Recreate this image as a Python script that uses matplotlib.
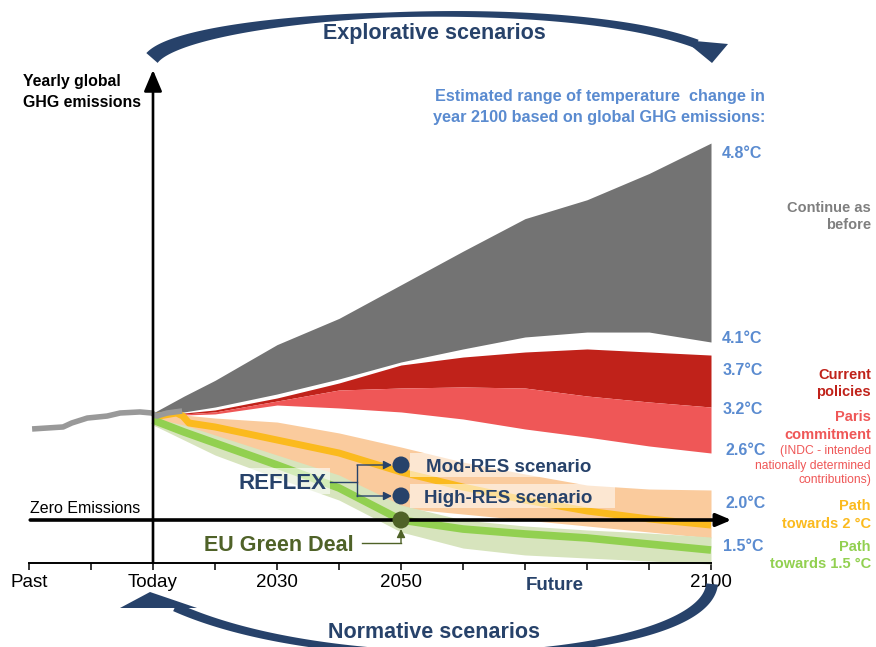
import numpy as np
import matplotlib
matplotlib.use("Agg")
import matplotlib.pyplot as plt
from matplotlib.patches import Polygon, Rectangle

plt.rcParams["font.family"] = ["Liberation Sans", "DejaVu Sans"]

W, H = 876, 647

# emissions are an index with today's level = 100; years on the time axis
YEARS = [2010, 2015, 2020, 2030, 2040, 2050, 2060, 2070, 2080, 2090, 2100]

past_years = [1990.5, 1995.5, 1996.9, 1999.4, 2002.6, 2004.7, 2007.9, 2009.8, 2010.6, 2012.3, 2014.7]
past_emis = [86.7, 88.6, 92.4, 97.1, 99.0, 101.9, 102.9, 101.9, 99.0, 101.9, 103.8]

bau_hi = [101.9, 118, 133, 167, 192, 224, 256, 287, 305, 330, 359]
bau_lo = [101.9, 102.9, 107.6, 120.0, 134.3, 150.5, 162.9, 174.3, 179.0, 179.0, 169.5]
cur_hi = [101.0, 101.9, 104.8, 116.2, 130.5, 147.6, 155.2, 160.0, 162.9, 160.0, 157.1]
cur_mid = [101.0, 101.0, 102.9, 113.3, 123.8, 125.7, 126.7, 125.7, 118.1, 112.4, 107.6]
paris_lo = [101.0, 100.0, 101.0, 109.5, 106.7, 102.9, 96.2, 86.7, 79.0, 70.5, 63.8]

two_hi = [101.9, 100.0, 97.1, 93.3, 82.9, 69.5, 55.2, 43.8, 33.3, 29.5, 28.6]
two_lo = [90.5, 79.0, 66.7, 47.6, 28.6, 11.4, 5.7, 0.0, -5.7, -11.4, -17.1]
two_years = [2010, 2013.8, 2014.8, 2015.8, 2020, 2030, 2040, 2050, 2060, 2070, 2080, 2090, 2100]
two_mid = [98.1, 101.9, 99.0, 92.4, 88.6, 76.2, 63.8, 45.7, 31.4, 19.0, 8.6, 1.0, -4.8]

one5_hi = [97.1, 90.5, 81.0, 61.9, 42.9, 14.3, 0.0, -5.7, -9.5, -12.4, -16.2]
one5_lo = [90.5, 76.2, 61.9, 40.0, 19.0, -11.4, -26.7, -33.3, -36.2, -39.0, -41.9]
one5_mid = [95.2, 83.8, 73.3, 52.4, 30.5, 0.0, -8.6, -13.3, -17.1, -22.9, -28.6]

# 2050 scenario points
dot_year = 2050
dot_names = ["Mod-RES", "High-RES", "EU Green Deal"]
dot_emis = [52.4, 22.9, 0.0]

tick_years = list(range(1990, 2101, 10))
tick_labels = ["Past", "", "Today", "", "2030", "", "2050", "", "", "", "", "2100"]

temp_labels = ["4.8°C", "4.1°C", "3.7°C", "3.2°C", "2.6°C", "2.0°C", "1.5°C"]

GREY_BAND = "#737373"
DARK_RED = "#C0221A"
LIGHT_RED = "#EF5757"
PEACH = "#FACB9D"
PALE_GREEN = "#D7E4BD"
YELLOW = "#FBBA1E"
GREEN = "#92D050"
NAVY = "#27426A"
OLIVE = "#4F6228"
BLUE = "#5A8BD0"

X0_PX, PX_PER_YEAR = 29, 6.2
ZERO_PX, PX_PER_UNIT = 520, 1.05
AXIS_BASE = (ZERO_PX - 563) / PX_PER_UNIT

fig = plt.figure(figsize=(W / 100, H / 100), dpi=100)
ax = fig.add_axes([0, 0, 1, 1])
ax.set_xlim(1990 - X0_PX / PX_PER_YEAR, 1990 + (W - X0_PX) / PX_PER_YEAR)
ax.set_ylim((ZERO_PX - H) / PX_PER_UNIT, ZERO_PX / PX_PER_UNIT)
ax.patch.set_alpha(0)

# scenario bands
ax.fill_between(YEARS, bau_lo, bau_hi, color=GREY_BAND, lw=0, zorder=1)
ax.fill_between(YEARS, cur_mid, cur_hi, color=DARK_RED, lw=0, zorder=1)
ax.fill_between(YEARS, paris_lo, cur_mid, color=LIGHT_RED, lw=0, zorder=1)
ax.fill_between(YEARS, two_lo, two_hi, color=PEACH, lw=0, zorder=2)
ax.fill_between(YEARS, one5_lo, one5_hi, color=PALE_GREEN, lw=0, zorder=2)
ax.plot(two_years, two_mid, color=YELLOW, lw=5, solid_capstyle="butt", zorder=3)
ax.plot(YEARS, one5_mid, color=GREEN, lw=5.5, solid_capstyle="butt", zorder=3)
ax.plot(past_years, past_emis, color="#999999", lw=4, solid_capstyle="butt", zorder=4)

# zero-emission line and emissions axis
ax.annotate("", xy=(2103.3, 0), xytext=(1990.2, 0),
            arrowprops=dict(arrowstyle="-|>,head_length=0.9,head_width=0.38",
                            lw=2.6, color="black", shrinkA=0, shrinkB=0), zorder=5)
ax.annotate("", xy=(2010, (ZERO_PX - 70) / PX_PER_UNIT), xytext=(2010, AXIS_BASE),
            arrowprops=dict(arrowstyle="-|>,head_length=1.3,head_width=0.55",
                            lw=1.9, color="black", shrinkA=0, shrinkB=0), zorder=5)

ax.scatter([dot_year] * 3, dot_emis, s=150, c=[NAVY, NAVY, OLIVE], lw=0, zorder=7)

# time axis
for side in ["top", "right", "left"]:
    ax.spines[side].set_visible(False)
ax.spines["bottom"].set_position(("data", AXIS_BASE))
ax.spines["bottom"].set_bounds(1990, 2100)
ax.spines["bottom"].set_linewidth(1.4)
ax.set_xticks(tick_years)
ax.set_xticklabels(tick_labels)
ax.tick_params(axis="x", length=5, width=1.1, pad=3, labelsize=13.5)
ax.set_yticks([])

# annotation layer in pixel units
ov = fig.add_axes([0, 0, 1, 1])
ov.set_xlim(0, W)
ov.set_ylim(H, 0)
ov.axis("off")


def txt(x, y, s, size, ha="left", **kw):
    ov.text(x, y + 0.497 * size, s, fontsize=size, ha=ha, va="baseline", **kw)


def swoosh(pts, widths, color):
    P = np.array(pts, float)
    t = np.linspace(0, 1, 300)[:, None]
    c = ((1 - t) ** 3 * P[0] + 3 * (1 - t) ** 2 * t * P[1]
         + 3 * (1 - t) * t ** 2 * P[2] + t ** 3 * P[3])
    d = np.gradient(c, axis=0)
    d /= np.linalg.norm(d, axis=1)[:, None]
    n = np.column_stack([-d[:, 1], d[:, 0]])
    w = np.interp(t.ravel(), [0, 0.5, 1], widths)[:, None] / 2
    ov.add_patch(Polygon(np.vstack([c + n * w, (c - n * w)[::-1]]), closed=True,
                         fc=color, ec="none"))


swoosh([(152, 58), (190, 13), (560, -7), (697, 44)], [15, 5, 9], NAVY)
ov.add_patch(Polygon([(684, 40), (728, 44), (712, 63)], closed=True, fc=NAVY, ec="none"))
swoosh([(712, 584), (705, 662), (340, 682), (175, 607)], [12, 5, 9], NAVY)
ov.add_patch(Polygon([(120, 608), (150, 592), (197, 608)], closed=True, fc=NAVY, ec="none"))

txt(434, 31, "Explorative scenarios", 15.5, ha="center", weight="bold", color=NAVY)
txt(434, 630, "Normative scenarios", 15.5, ha="center", weight="bold", color=NAVY)

txt(23, 80, "Yearly global", 11.4, weight="bold")
txt(23, 101, "GHG emissions", 11.4, weight="bold")
txt(765, 95, "Estimated range of temperature  change in", 11.7, ha="right", weight="bold", color=BLUE)
txt(765, 116, "year 2100 based on global GHG emissions:", 11.7, ha="right", weight="bold", color=BLUE)

for (x, y), s in zip([(722, 152), (722, 337), (723, 369), (723, 408), (725, 449),
                      (725, 502), (723, 545)], temp_labels):
    txt(x, y, s, 11.5, weight="bold", color=BLUE)

txt(871, 207, "Continue as", 10.5, ha="right", weight="bold", color="#7F7F7F")
txt(871, 224, "before", 10.5, ha="right", weight="bold", color="#7F7F7F")
txt(871, 374, "Current", 10.5, ha="right", weight="bold", color=DARK_RED)
txt(871, 391, "policies", 10.5, ha="right", weight="bold", color=DARK_RED)
txt(871, 416, "Paris", 10.5, ha="right", weight="bold", color=LIGHT_RED)
txt(871, 434, "commitment", 10.5, ha="right", weight="bold", color=LIGHT_RED)
txt(871, 450, "(INDC - intended", 8.7, ha="right", color=LIGHT_RED)
txt(871, 465, "nationally determined", 8.7, ha="right", color=LIGHT_RED)
txt(871, 479, "contributions)", 8.7, ha="right", color=LIGHT_RED)
txt(871, 505, "Path", 10.5, ha="right", weight="bold", color=YELLOW)
txt(871, 523, "towards 2 °C", 10.5, ha="right", weight="bold", color=YELLOW)
txt(871, 546, "Path", 10.5, ha="right", weight="bold", color=GREEN)
txt(871, 563, "towards 1.5 °C", 10.5, ha="right", weight="bold", color=GREEN)

txt(30, 507, "Zero Emissions", 11.5)
txt(555, 583, "Future", 13.5, ha="center", weight="bold", color=NAVY)

# REFLEX scenarios and EU Green Deal callouts
ov.add_patch(Rectangle((230, 468), 100, 26, fc="white", alpha=0.6, ec="none"))
ov.add_patch(Rectangle((410, 453), 205, 24, fc="white", alpha=0.55, ec="none"))
ov.add_patch(Rectangle((410, 484), 205, 24, fc="white", alpha=0.55, ec="none"))
txt(282, 481, "REFLEX", 16, ha="center", weight="bold", color=NAVY)
txt(426, 465, dot_names[0] + " scenario", 13.5, weight="bold", color=NAVY)
txt(424, 496, dot_names[1] + " scenario", 13.5, weight="bold", color=NAVY)
txt(354, 543, dot_names[2], 15.5, ha="right", weight="bold", color=OLIVE)

ov.plot([330, 357], [482, 482], color=NAVY, lw=1)
ov.plot([357, 357], [465, 496], color=NAVY, lw=1)
for y in (465, 496):
    ov.annotate("", xy=(392, y), xytext=(357, y),
                arrowprops=dict(arrowstyle="-|>,head_length=0.5,head_width=0.25",
                                color=NAVY, lw=1, shrinkA=0, shrinkB=0))
ov.plot([362, 401], [543, 543], color=OLIVE, lw=1)
ov.annotate("", xy=(401, 529), xytext=(401, 543),
            arrowprops=dict(arrowstyle="-|>,head_length=0.5,head_width=0.25",
                            color=OLIVE, lw=1, shrinkA=0, shrinkB=0))

fig.savefig("out.png", dpi=100)
